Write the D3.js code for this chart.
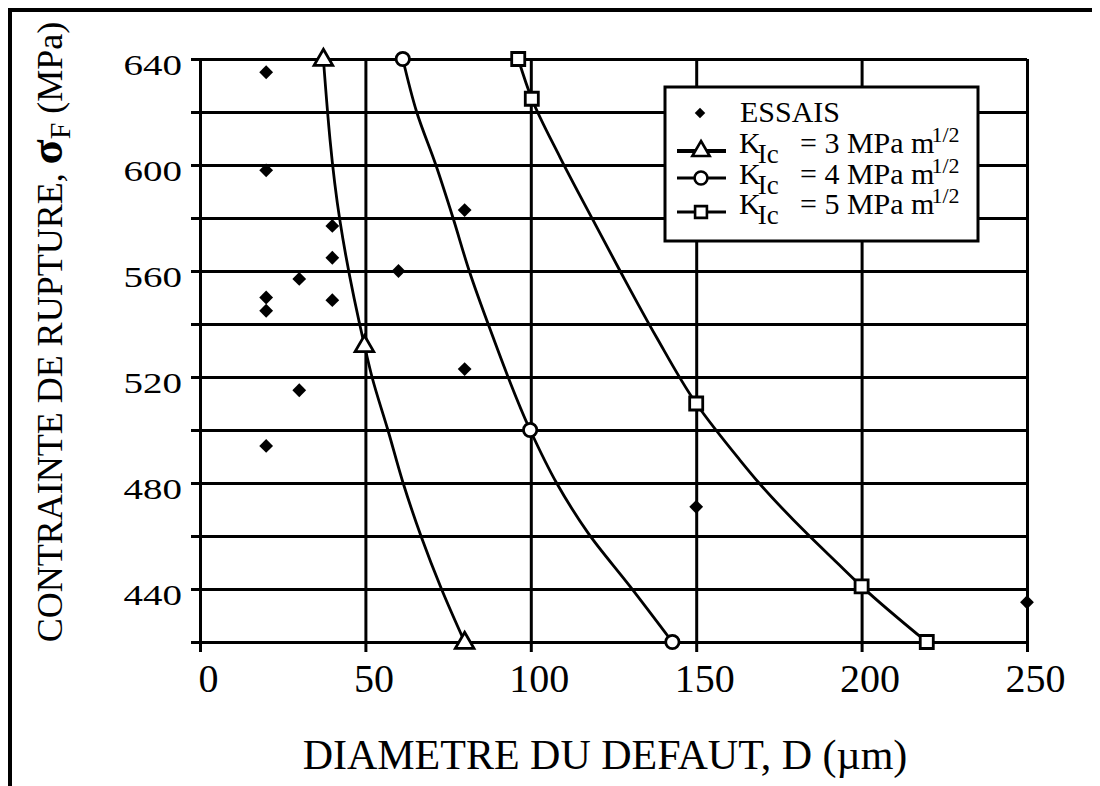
<!DOCTYPE html>
<html>
<head>
<meta charset="utf-8">
<script src="https://cdnjs.cloudflare.com/ajax/libs/d3/7.8.5/d3.min.js"></script>
<style>
  html, body { margin: 0; padding: 0; background: #fff; }
  svg { display: block; }
</style>
</head>
<body>
<svg id="chart" width="1100" height="786"></svg>
<script>
// ---------- data ----------
const xTicks = [0, 50, 100, 150, 200, 250];
const yTickLabels = [440, 480, 520, 560, 600, 640];
const yGridValues = [420, 440, 460, 480, 500, 520, 540, 560, 580, 600, 620, 640];

// experimental points (D µm, sigma MPa)
const essaisD = [20, 20, 40, 40, 80, 60, 30, 20, 20, 40, 80, 30, 20, 150, 250];
const essaisS = [635, 598, 577, 565, 583, 560, 557, 550, 545, 549, 523, 515, 494, 471, 435];

// K_Ic = 3 curve
const k3CurveD = [37.3, 42.3, 49.7, 52, 56.8, 61.4, 66.8, 73, 80];
const k3CurveS = [640, 579, 532, 520, 500, 480, 460, 440, 420];
const k3MarkD = [37.3, 49.7, 80];
const k3MarkS = [640, 532, 420];

// K_Ic = 4 curve
const k4CurveD = [61.3, 65.5, 71.3, 76.5, 81.4, 87.7, 99.8, 107.8, 117.4, 130, 142.8];
const k4CurveS = [640, 620, 600, 580, 560, 538, 500, 480, 461, 441, 420];
const k4MarkD = [61.3, 99.8, 142.8];
const k4MarkS = [640, 500, 420];

// K_Ic = 5 curve
const k5CurveD = [96.2, 100.3, 108.8, 118.9, 127, 138, 150, 163, 169, 183.4, 192.5, 200, 219.7];
const k5CurveS = [640, 625, 603, 579, 560, 535, 510, 489, 480, 461, 450, 441, 420];
const k5MarkD = [96.2, 100.3, 150, 200, 219.7];
const k5MarkS = [640, 625, 510, 441, 420];

const legendLabels = ["ESSAIS", "3", "4", "5"];

// ---------- layout ----------
const FONT = "Liberation Serif";
const svg = d3.select("#chart");
const L = 200, T = 59, R = 1027, B = 642;
const x = d3.scaleLinear().domain([0, 250]).range([L, R]);
const y = d3.scaleLinear().domain([420, 640]).range([B, T]);

// outer frame (top + left)
svg.append("line").attr("x1", 8).attr("x2", 1092).attr("y1", 10).attr("y2", 10)
  .attr("stroke", "#000").attr("stroke-width", 4);
svg.append("line").attr("x1", 10).attr("x2", 10).attr("y1", 8).attr("y2", 786)
  .attr("stroke", "#000").attr("stroke-width", 4);

// horizontal grid (extends left as ticks)
const gy = svg.append("g").attr("transform", `translate(${R},0)`)
  .call(d3.axisLeft(y).tickValues(yGridValues).tickSize(R - L + 9).tickFormat(""));
gy.select(".domain").remove();
gy.selectAll("line").attr("stroke", "#000").attr("stroke-width", 3);

// vertical grid (extends down as ticks)
const gx = svg.append("g").attr("transform", `translate(0,${T})`)
  .call(d3.axisBottom(x).tickValues(xTicks).tickSize(B - T + 10).tickFormat(""));
gx.select(".domain").remove();
gx.selectAll("line").attr("stroke", "#000").attr("stroke-width", 3);

// x tick labels
const xl = svg.append("g").attr("transform", `translate(0,${B})`)
  .call(d3.axisBottom(x).tickValues(xTicks).tickSize(0).tickPadding(0).tickFormat(d3.format("d")));
xl.select(".domain").remove();
xl.selectAll("text").style("font-family", FONT).attr("font-size", 40)
  .attr("dy", null).attr("y", 50).attr("x", 8);

// y tick labels (slightly flattened, as in the original)
const yl = svg.append("g").attr("transform", `translate(${L},0)`)
  .call(d3.axisLeft(y).tickValues(yTickLabels).tickSize(0).tickPadding(18).tickFormat(d3.format("d")));
yl.select(".domain").remove();
yl.selectAll("text").style("font-family", FONT).attr("font-size", 39)
  .attr("dy", null).attr("y", 21).attr("transform", "scale(1,0.76)");

// ---------- curves ----------
const line = d3.line().x(d => x(d[0])).y(d => y(d[1])).curve(d3.curveMonotoneY);
const series = [
  { cd: k3CurveD, cs: k3CurveS, md: k3MarkD, ms: k3MarkS, sym: d3.symbolTriangle, size: 150 },
  { cd: k4CurveD, cs: k4CurveS, md: k4MarkD, ms: k4MarkS, sym: d3.symbolCircle, size: 140 },
  { cd: k5CurveD, cs: k5CurveS, md: k5MarkD, ms: k5MarkS, sym: d3.symbolSquare, size: 170 }
];
series.forEach(s => {
  svg.append("path").datum(s.cd.map((d, i) => [d, s.cs[i]]))
    .attr("d", line).attr("fill", "none").attr("stroke", "#000").attr("stroke-width", 2.8);
});
series.forEach(s => {
  svg.append("g").selectAll("path").data(s.md.map((d, i) => [d, s.ms[i]])).join("path")
    .attr("transform", d => `translate(${x(d[0])},${y(d[1]) + (s.sym === d3.symbolTriangle ? 1 : 0)})`)
    .attr("d", d3.symbol().type(s.sym).size(s.size))
    .attr("fill", "#fff").attr("stroke", "#000").attr("stroke-width", 2.8);
});

// experimental points (diamonds)
svg.append("g").selectAll("path").data(essaisD.map((d, i) => [d, essaisS[i]])).join("path")
  .attr("transform", d => `translate(${x(d[0])},${y(d[1])}) rotate(45)`)
  .attr("d", d3.symbol().type(d3.symbolSquare).size(95))
  .attr("fill", "#000");

// ---------- legend ----------
const lg = svg.append("g");
lg.append("rect").attr("x", 665).attr("y", 87).attr("width", 313).attr("height", 154)
  .attr("fill", "#fff").attr("stroke", "#000").attr("stroke-width", 3);
// ESSAIS
lg.append("path").attr("transform", "translate(700,113) rotate(45)")
  .attr("d", d3.symbol().type(d3.symbolSquare).size(55)).attr("fill", "#000");
lg.append("text").attr("x", 740).attr("y", 122).attr("font-size", 30)
  .style("font-family", FONT).text(legendLabels[0]);
const rows = [
  { yc: 151, base: 153, sym: d3.symbolTriangle, size: 130, lw: 4 },
  { yc: 178, base: 184, sym: d3.symbolCircle, size: 130, lw: 3 },
  { yc: 212, base: 214, sym: d3.symbolSquare, size: 140, lw: 3 }
];
rows.forEach((r, i) => {
  lg.append("line").attr("x1", 677).attr("x2", 726).attr("y1", r.yc).attr("y2", r.yc)
    .attr("stroke", "#000").attr("stroke-width", r.lw);
  lg.append("path").attr("transform", `translate(701,${r.yc})`)
    .attr("d", d3.symbol().type(r.sym).size(r.size))
    .attr("fill", "#fff").attr("stroke", "#000").attr("stroke-width", 2.6);
  const t = lg.append("text").attr("x", 739).attr("y", r.base).attr("font-size", 30)
    .style("font-family", FONT);
  t.append("tspan").text("K");
  t.append("tspan").attr("font-size", 27).attr("dy", 10).attr("dx", -3).text("Ic");
  t.append("tspan").attr("x", 800).attr("y", r.base).text(`= ${legendLabels[i + 1]} MPa m`);
  t.append("tspan").attr("font-size", 22).attr("dy", -11).attr("dx", -3).text("1/2");
});

// ---------- axis titles ----------
svg.append("text").attr("x", 605).attr("y", 769).attr("text-anchor", "middle")
  .style("font-family", FONT).attr("font-size", 42).text("DIAMETRE DU DEFAUT, D (µm)");

const yt = svg.append("text").attr("transform", "translate(62,332) rotate(-90)")
  .style("font-family", FONT).attr("text-anchor", "middle").attr("font-size", 36);
yt.append("tspan").text("CONTRAINTE DE RUPTURE, ");
yt.append("tspan").attr("font-size", 46).attr("font-weight", "bold").text("σ");
yt.append("tspan").attr("font-size", 30).attr("dy", 8).text("F");
yt.append("tspan").attr("dy", -8).text(" (MPa)");
</script>
</body>
</html>
